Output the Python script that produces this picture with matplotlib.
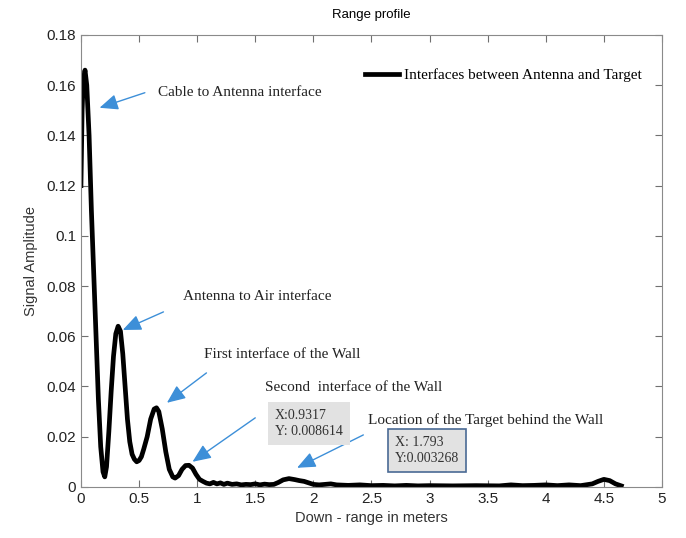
import matplotlib
matplotlib.use('Agg')
import matplotlib.pyplot as plt
from matplotlib.ticker import FuncFormatter

# range profile (down-range in m, amplitude)
rng = [0.00, 0.01, 0.02, 0.035, 0.05, 0.07, 0.09, 0.11, 0.13, 0.15, 0.17, 0.19,
       0.205, 0.22, 0.24, 0.26, 0.28, 0.30, 0.32, 0.34, 0.36, 0.38, 0.40, 0.42,
       0.44, 0.46, 0.48, 0.50, 0.52, 0.54, 0.57, 0.60, 0.63, 0.65, 0.67, 0.70,
       0.73, 0.76, 0.79, 0.81, 0.84, 0.87, 0.90, 0.93, 0.96, 0.99, 1.02, 1.05,
       1.08, 1.11, 1.14, 1.17, 1.20, 1.23, 1.26, 1.30, 1.34, 1.38, 1.42, 1.46,
       1.50, 1.54, 1.58, 1.62, 1.66, 1.70, 1.74, 1.79, 1.84, 1.88, 1.92, 1.96,
       2.00, 2.05, 2.10, 2.15, 2.20, 2.30, 2.40, 2.50, 2.60, 2.70, 2.80, 2.90,
       3.00, 3.20, 3.40, 3.60, 3.70, 3.80, 3.90, 4.00, 4.10, 4.20, 4.30, 4.40,
       4.45, 4.50, 4.55, 4.60, 4.65]
amp = [0.120, 0.150, 0.162, 0.166, 0.160, 0.140, 0.110, 0.085, 0.060, 0.035, 0.016, 0.006,
       0.004, 0.008, 0.022, 0.038, 0.052, 0.061, 0.064, 0.062, 0.053, 0.040, 0.027, 0.018,
       0.013, 0.011, 0.010, 0.0105, 0.012, 0.015, 0.020, 0.027, 0.031, 0.0315, 0.030, 0.023,
       0.014, 0.007, 0.004, 0.0035, 0.0045, 0.007, 0.0085, 0.0086, 0.0075, 0.005, 0.003, 0.0022,
       0.0015, 0.0012, 0.0018, 0.0012, 0.0016, 0.0010, 0.0015, 0.0010, 0.0012, 0.0008, 0.0010, 0.0009,
       0.0012, 0.0008, 0.0011, 0.0009, 0.0010, 0.0018, 0.0028, 0.0033, 0.0029, 0.0025, 0.0022, 0.0016,
       0.0010, 0.0008, 0.0010, 0.0012, 0.0008, 0.0006, 0.0008, 0.0005, 0.0006, 0.0004, 0.0006, 0.0004,
       0.0005, 0.0004, 0.0005, 0.0004, 0.0008, 0.0005, 0.0006, 0.0008, 0.0005, 0.0008, 0.0005, 0.0012,
       0.0022, 0.0030, 0.0025, 0.0012, 0.0004]

# annotations: text, text position, arrow tail, arrow tip
notes = [
    ('Cable to Antenna interface', (0.66, 0.157), (0.55, 0.157), (0.16, 0.151)),
    ('Antenna to Air interface', (0.88, 0.0757), (0.71, 0.0697), (0.36, 0.0625)),
    ('First interface of the Wall', (1.06, 0.0526), (1.08, 0.0454), (0.74, 0.0335)),
    ('Second  interface of the Wall', (1.58, 0.0394), (1.50, 0.0275), (0.96, 0.0100)),
    ('Location of the Target behind the Wall', (2.47, 0.0265), (2.43, 0.0207), (1.86, 0.0076)),
]
tips = [('X:0.9317\nY: 0.008614', (1.67, 0.0251), 'none'),
        ('X: 1.793\nY:0.003268', (2.70, 0.0145), '#4a6a95')]

serif = ['Liberation Serif', 'DejaVu Serif']
blue = '#3d8fd8'

fig = plt.figure(figsize=(6.86, 5.38), dpi=100)
ax = fig.add_axes([0.118, 0.095, 0.847, 0.84])
ax.plot(rng, amp, color='black', linewidth=3.4, label='Interfaces between Antenna and Target',
        solid_joinstyle='round')
ax.set_xlim(0, 5)
ax.set_ylim(0, 0.18)
ax.set_xticks([0, 0.5, 1, 1.5, 2, 2.5, 3, 3.5, 4, 4.5, 5])
ax.set_yticks([0, 0.02, 0.04, 0.06, 0.08, 0.1, 0.12, 0.14, 0.16, 0.18])
ax.xaxis.set_major_formatter(FuncFormatter(lambda v, p: '%g' % v))
ax.yaxis.set_major_formatter(FuncFormatter(lambda v, p: '%g' % round(v, 3)))
ax.tick_params(direction='in', top=True, right=True, length=5, color='#707070',
               labelsize=11, labelcolor='#222222')
for s in ax.spines.values():
    s.set_color('#8a8a8a')
for lab in ax.get_xticklabels() + ax.get_yticklabels():
    lab.set_family(['Liberation Sans', 'DejaVu Sans'])

ax.set_title('Range profile', fontsize=9.5, pad=12, family=['Liberation Sans', 'DejaVu Sans'])
ax.set_xlabel('Down - range in meters', fontsize=10.5, color='#333333', labelpad=4,
              family=['Liberation Sans', 'DejaVu Sans'])
ax.set_ylabel('Signal Amplitude', fontsize=10.5, color='#333333', labelpad=6,
              family=['Liberation Sans', 'DejaVu Sans'])

leg = ax.legend(loc='upper right', bbox_to_anchor=(0.975, 0.94), frameon=False,
                handlelength=2.2, handletextpad=0.3, borderaxespad=0,
                prop={'family': serif, 'size': 11})

for txt, pos, tail, tip in notes:
    ax.text(pos[0], pos[1], txt, family=serif, fontsize=11, color='#222222', va='center')
    ax.annotate('', xy=tip, xytext=tail,
                arrowprops=dict(arrowstyle='-|>,head_length=0.7,head_width=0.3',
                                color=blue, lw=1.0, mutation_scale=16, shrinkA=0, shrinkB=0))

for txt, pos, edge in tips:
    ax.text(pos[0], pos[1], txt, family=serif, fontsize=10, color='#333333', va='center',
            linespacing=1.3,
            bbox=dict(boxstyle='square,pad=0.5', facecolor='#e2e2e2', edgecolor=edge, lw=1.2))

fig.savefig('out.png', dpi=100)
